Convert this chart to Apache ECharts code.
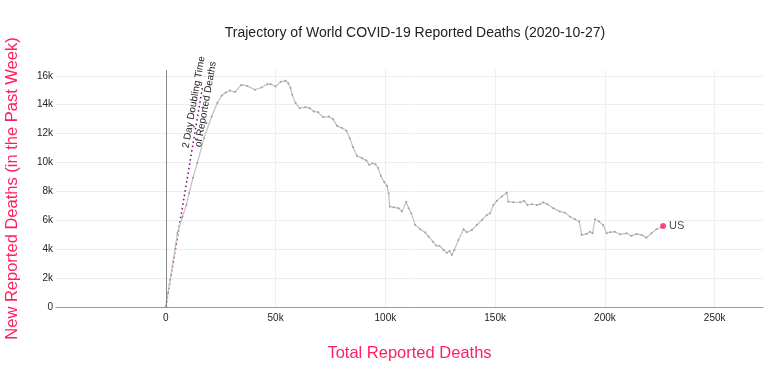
<!DOCTYPE html>
<html>
<head>
<meta charset="utf-8">
<script src="https://cdn.jsdelivr.net/npm/echarts@6/dist/echarts.min.js"></script>
<style>
html,body{margin:0;padding:0;background:#fff;}
#chart{width:780px;height:369px;}
</style>
</head>
<body>
<div id="chart"></div>
<script>
// Total reported deaths (x) and new reported deaths in the past week (y), US trajectory
var totalDeaths = [0, 300, 5300, 7600, 9400, 10600, 12400, 14400, 17400, 20900, 23500, 25500, 27300, 29200, 31500, 34400, 37100, 40600, 43600, 46200, 47700, 50000, 52300, 54500, 55800, 56800, 57600, 59100, 61000, 63600, 65600, 67400, 69400, 71700, 74200, 76200, 78000, 80300, 82300, 83800, 85300, 87100, 89400, 91400, 92700, 94000, 95500, 96700, 98000, 99500, 100800, 101500, 102000, 103800, 106000, 107600, 109500, 110600, 111800, 113600, 115900, 118200, 119700, 121700, 123200, 124700, 126500, 128000, 129200, 130300, 131400, 133300, 135600, 137100, 139400, 141700, 144000, 146200, 147700, 149200, 150800, 153000, 155300, 156000, 158300, 161400, 163200, 164700, 166700, 169000, 170500, 172000, 173800, 176500, 179500, 181800, 184100, 186400, 188300, 189400, 191700, 193200, 194400, 195500, 197400, 199200, 200800, 202300, 204500, 206800, 209900, 212100, 214400, 216700, 218900, 221200, 223500, 225800, 226500];
var weeklyDeaths = [0, 20, 5100, 6250, 7060, 7870, 8950, 9970, 11700, 13180, 14130, 14630, 14840, 14980, 14870, 15370, 15300, 15030, 15190, 15420, 15420, 15260, 15580, 15650, 15490, 15150, 14680, 14110, 13760, 13830, 13760, 13530, 13480, 13140, 13180, 13000, 12530, 12380, 12190, 11680, 11060, 10460, 10300, 10130, 9830, 9950, 9880, 9610, 9070, 8640, 8380, 7870, 6950, 6900, 6840, 6600, 7290, 6840, 6490, 5680, 5380, 5150, 4870, 4520, 4250, 4220, 3950, 3760, 3880, 3600, 3950, 4640, 5380, 5170, 5330, 5680, 6020, 6370, 6490, 7060, 7360, 7640, 7920, 7290, 7250, 7250, 7340, 7060, 7110, 7060, 7110, 7250, 7110, 6840, 6600, 6530, 6250, 6070, 5910, 4990, 5060, 5210, 5100, 6070, 5910, 5680, 5100, 5170, 5210, 5030, 5100, 4920, 5060, 4990, 4800, 5100, 5380, 5520, 5610];
var countryLabel = 'US';
// 2-day doubling time reference line endpoints
var doublingX = [0, 16700];
var doublingY = [0, 15200];
var xTicks = [0, 50000, 100000, 150000, 200000, 250000];
var yTicks = [0, 2000, 4000, 6000, 8000, 10000, 12000, 14000, 16000];

var pink = '#ff1f5e';
var font = "'Liberation Sans', Arial, Helvetica, sans-serif";

var pts = totalDeaths.map(function (x, i) { return [x, weeklyDeaths[i]]; });
var last = pts[pts.length - 1];
var refPts = doublingX.map(function (x, i) { return [x, doublingY[i]]; });

function fmtK(v) { return v === 0 ? '0' : (v / 1000) + 'k'; }

var chart = echarts.init(document.getElementById('chart'), null, {renderer: 'canvas'});
chart.setOption({
  animation: false,
  backgroundColor: '#fff',
  textStyle: {fontFamily: font},
  title: {
    text: 'Trajectory of World COVID-19 Reported Deaths (2020-10-27)',
    left: 410, top: 21, textAlign: 'center',
    textStyle: {fontSize: 14, fontWeight: 'normal', color: '#222', fontFamily: font}
  },
  grid: {left: 56, right: 17, top: 70, bottom: 62, containLabel: false, outerBoundsMode: 'none'},
  xAxis: {
    type: 'value', min: -50000, max: 272000, interval: 50000,
    name: 'Total Reported Deaths', nameLocation: 'middle', nameGap: 38,
    nameTextStyle: {color: pink, fontSize: 16.5, fontFamily: font},
    axisLine: {show: true, onZero: false, lineStyle: {color: '#999', width: 1}},
    axisTick: {show: false},
    axisLabel: {
      color: '#222', fontSize: 10, margin: 6, fontFamily: font,
      formatter: function (v) { return xTicks.indexOf(v) >= 0 ? fmtK(v) : ''; }
    },
    splitLine: {show: true, showMinLine: false, showMaxLine: false, lineStyle: {color: '#eee', width: 1}}
  },
  yAxis: {
    type: 'value', min: 0, max: 16400, interval: 2000,
    name: 'New Reported Deaths (in the Past Week)', nameLocation: 'middle', nameGap: 35,
    nameTextStyle: {color: pink, fontSize: 16.5, fontFamily: font},
    axisLine: {show: false},
    axisTick: {show: false},
    axisLabel: {
      color: '#222', fontSize: 10, margin: 3, fontFamily: font,
      formatter: function (v) { return yTicks.indexOf(v) >= 0 ? fmtK(v) : ''; }
    },
    splitLine: {show: true, showMaxLine: false, lineStyle: {color: '#eee', width: 1}}
  },
  series: [
    {
      type: 'line', data: refPts, symbol: 'none', silent: true,
      lineStyle: {color: '#800080', width: 1.5, type: [1.5, 3]},
      z: 3
    },
    {
      type: 'line', data: pts, symbol: 'circle', symbolSize: 2,
      itemStyle: {color: '#a0a0a0'},
      lineStyle: {color: '#c0c0c0', width: 1.2},
      z: 4,
      markLine: {
        silent: true, symbol: 'none', animation: false,
        label: {show: false},
        lineStyle: {color: '#888', width: 1, type: 'solid'},
        data: [{xAxis: 0}]
      }
    },
    {
      type: 'scatter', data: [last], symbolSize: 6,
      itemStyle: {color: pink},
      label: {show: true, position: 'right', distance: 3, formatter: countryLabel, color: '#222', fontSize: 11, fontFamily: font},
      z: 5
    }
  ]
});

var c = chart.convertToPixel({gridIndex: 0}, [15500, 14100]);
chart.setOption({
  graphic: [{
    type: 'text', x: c[0], y: c[1], rotation: 80 * Math.PI / 180, z: 10,
    style: {
      text: '2 Day Doubling Time\nof Reported Deaths',
      fill: '#222', font: "10px 'Liberation Sans', Arial, sans-serif",
      textAlign: 'center', textVerticalAlign: 'middle', lineHeight: 12
    }
  }]
});
</script>
</body>
</html>
